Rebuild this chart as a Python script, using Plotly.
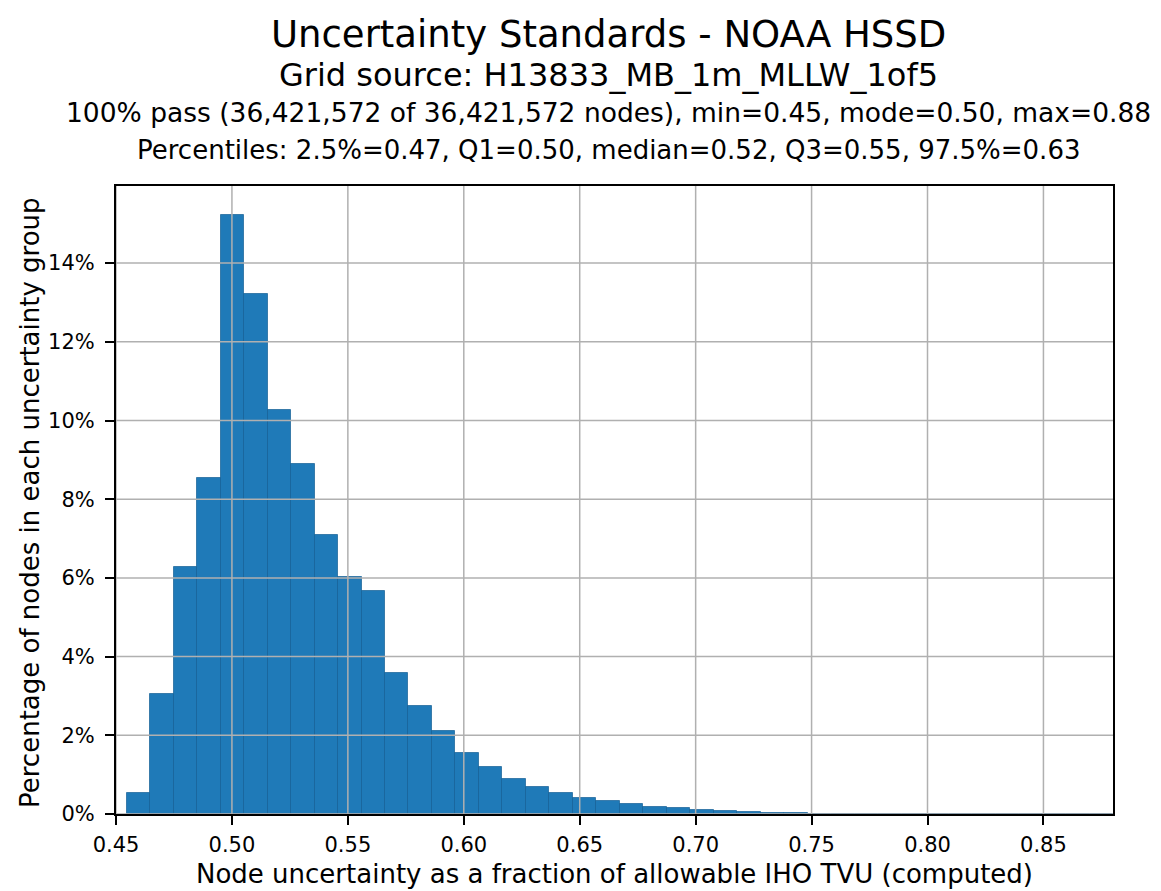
import plotly.graph_objects as go

# ---- data ----
bin_start = 0.4546
bin_width = 0.010129
pct_values = [0.53, 3.05, 6.28, 8.54, 15.22, 13.21, 10.27, 8.89, 7.09, 6.02,
              5.67, 3.58, 2.74, 2.11, 1.55, 1.19, 0.89, 0.69, 0.53, 0.41,
              0.32, 0.25, 0.19, 0.14, 0.10, 0.07, 0.05, 0.03, 0.02, 0.01,
              0.005, 0.003, 0.002, 0.001, 0.001, 0.0, 0.0, 0.0, 0.0, 0.0,
              0.0, 0.0]
x_ticks = [0.45, 0.50, 0.55, 0.60, 0.65, 0.70, 0.75, 0.80, 0.85]
y_ticks = [0, 2, 4, 6, 8, 10, 12, 14]
y_tick_labels = [f"{v}%" for v in y_ticks]
x_range = [0.45, 0.88]
y_range = [0, 15.96]

title_lines = [
    ("Uncertainty Standards - NOAA HSSD", 37),
    ("Grid source: H13833_MB_1m_MLLW_1of5", 32),
    ("100% pass (36,421,572 of 36,421,572 nodes), min=0.45, mode=0.50, max=0.88", 26.5),
    ("Percentiles: 2.5%=0.47, Q1=0.50, median=0.52, Q3=0.55, 97.5%=0.63", 26),
]
x_title = "Node uncertainty as a fraction of allowable IHO TVU (computed)"
y_title = "Percentage of nodes in each uncertainty group"

# positions in window pixels
title_y_px = [35, 75, 113, 150]
title_x_px = 608
x_title_pos = (614, 874)
y_title_pos = (30, 503)

centers = [bin_start + (i + 0.5) * bin_width for i in range(len(pct_values))]

FONT = "DejaVu Sans"
OFF = 8  # page body margin
W, H = 1161 - OFF, 891 - OFF
L, T = 116 - OFF, 186 - OFF
R = W - (1113 - OFF)
B = H - (814 - OFF)
PW, PH = W - L - R, H - T - B


def px_to_paper(xp, yp):
    return (xp - OFF - L) / PW, 1 - (yp - OFF - T) / PH


fig = go.Figure()
fig.add_trace(go.Bar(
    x=centers, y=pct_values, width=[bin_width] * len(pct_values),
    marker=dict(color="#1f7ab8", line=dict(color="rgba(20,95,150,0.7)", width=1)),
    showlegend=False,
))

shapes = []
for xv in x_ticks:
    shapes.append(dict(type="line", xref="x", yref="paper", x0=xv, x1=xv, y0=0, y1=1,
                       line=dict(color="#b0b0b0", width=1.5), layer="above"))
for yv in y_ticks:
    shapes.append(dict(type="line", xref="paper", yref="y", x0=0, x1=1, y0=yv, y1=yv,
                       line=dict(color="#b0b0b0", width=1.5), layer="above"))

annotations = []
for (txt, size), ypx in zip(title_lines, title_y_px):
    ax, ay = px_to_paper(title_x_px, ypx)
    annotations.append(dict(
        text=txt, xref="paper", yref="paper", x=ax, y=ay,
        xanchor="center", yanchor="middle",
        showarrow=False, font=dict(family=FONT, size=size, color="black")))

ax, ay = px_to_paper(*x_title_pos)
annotations.append(dict(text=x_title, xref="paper", yref="paper", x=ax, y=ay,
                        xanchor="center", yanchor="middle", showarrow=False,
                        font=dict(family=FONT, size=26, color="black")))
ax, ay = px_to_paper(*y_title_pos)
annotations.append(dict(text=y_title, xref="paper", yref="paper", x=ax, y=ay,
                        xanchor="center", yanchor="middle", showarrow=False,
                        textangle=-90,
                        font=dict(family=FONT, size=26, color="black")))

fig.update_layout(
    width=W, height=H,
    margin=dict(l=L, r=R, t=T, b=B, autoexpand=False),
    paper_bgcolor="white", plot_bgcolor="white",
    font=dict(family=FONT, color="black"),
    bargap=0,
    shapes=shapes,
    annotations=annotations,
    xaxis=dict(
        range=x_range, tickvals=x_ticks, tickformat=".2f",
        showgrid=False, zeroline=False,
        showline=True, linecolor="black", linewidth=2, mirror=True,
        ticks="outside", ticklen=9, tickwidth=2, tickcolor="black",
        ticklabelstandoff=2,
        tickfont=dict(family=FONT, size=21, color="black"),
        layer="above traces",
    ),
    yaxis=dict(
        range=y_range, tickvals=y_ticks, ticktext=y_tick_labels,
        showgrid=False, zeroline=False,
        showline=True, linecolor="black", linewidth=2, mirror=True,
        ticks="outside", ticklen=9, tickwidth=2, tickcolor="black",
        ticklabelstandoff=6,
        tickfont=dict(family=FONT, size=21, color="black"),
        layer="above traces",
    ),
)

fig.write_html("out.html")
